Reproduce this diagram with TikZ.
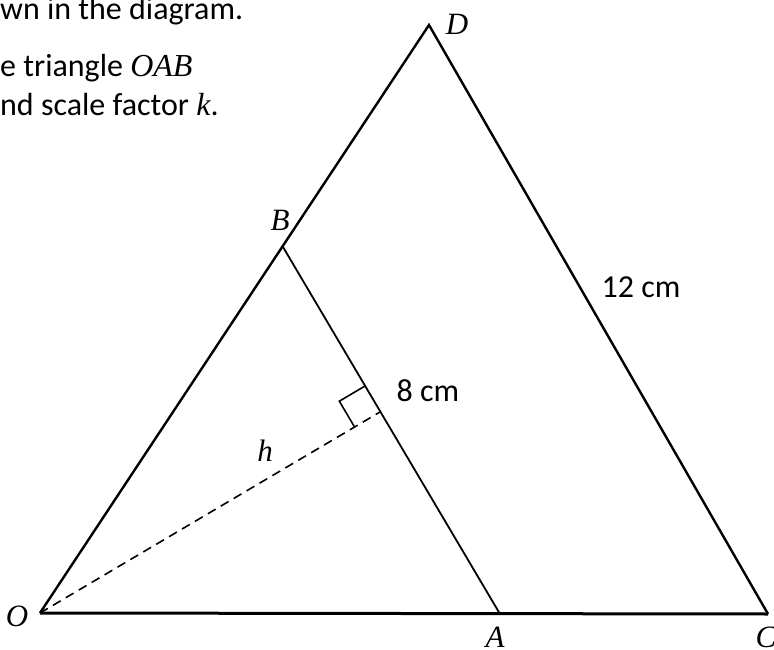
\documentclass[tikz,border=0pt]{standalone}
\usepackage{fontspec}
\setmainfont{Carlito}
\newfontfamily\mathvar{Liberation Serif}
\usetikzlibrary{calc}
\begin{document}
\begin{tikzpicture}[x=1pt,y=-1pt,
  lbl/.style={font=\fontsize{32}{38}\selectfont, inner sep=0pt},
  var/.style={font=\fontsize{31}{36}\selectfont\mathvar\itshape, inner sep=0pt},
  body/.style={font=\fontsize{32}{38}\selectfont, inner sep=0pt, anchor=base west},
  thick side/.style={line width=2.4pt, line join=miter},
  thin side/.style={line width=1.8pt},
  height line/.style={line width=1.6pt, dash pattern=on 9pt off 6pt}]
\useasboundingbox (0,0) rectangle (774,650);
\coordinate (O) at (40,613);
\coordinate (A) at (500,614);
\coordinate (C) at (768,614);
\coordinate (D) at (429,25);
\coordinate (B) at (283,247);
\coordinate (F) at ($(A)!(O)!(B)$);
\coordinate (P1) at ($(F)!30pt!(B)$);
\coordinate (P3) at ($(F)!30pt!(O)$);
\coordinate (P2) at ($(P1)+(P3)-(F)$);
% triangle
\draw[thick side] (O) -- (D) -- (C);
\draw[line width=3pt] (O) -- (C);
\draw[thin side] (B) -- (A);
\draw[height line] (O) -- (F);
\draw[line width=1.6pt] (P1) -- (P2) -- (P3);
% labels
\node[var] (lO) at (17,616) {O};
\node[var] (lA) at (495,637) {A};
\node[var] (lC) at (766,637) {C};
\node[var] (lD) at (457,24) {D};
\node[var] (lB) at (280,220) {B};
\node[var] (lh) at (265,451) {h};
\node[lbl] (l12) at (641,287) {12 cm};
\node[lbl] (l8) at (428,391) {8 cm};
% text
\node[body] (t1) at (0,20) {wn in the diagram.};
\node[body] (t2) at (0,77) {e triangle {\mathvar\itshape OAB}};
\node[body] (t3) at (0,116) {nd scale factor {\mathvar\itshape k}.};
\end{tikzpicture}
\end{document}
